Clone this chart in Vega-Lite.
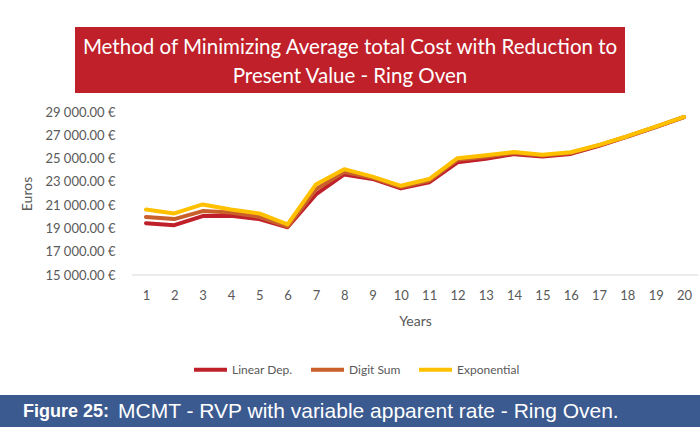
{
  "$schema": "https://vega.github.io/schema/vega-lite/v6.json",
  "padding": {"top": 27, "left": 0, "right": 0, "bottom": 0},
  "background": "white",
  "spacing": 67,
  "config": {"view": {"stroke": null}, "font": "Lato", "axis": {"labelOverlap": false}},
  "vconcat": [
    {
      "spacing": 13,
      "center": true,
      "vconcat": [
        {
          "width": 550,
          "height": 66,
          "view": {"fill": "#C0202A", "stroke": null},
          "data": {"values": [{"t": "Method of Minimizing Average total Cost with Reduction to\nPresent Value - Ring Oven"}]},
          "mark": {"type": "text", "color": "white", "fontSize": 20.5, "lineBreak": "\n", "lineHeight": 29, "font": "Lato", "baseline": "middle", "dy": -12.5},
          "encoding": {"text": {"field": "t"}}
        },
        {
          "width": 700,
          "height": 163,
          "layer": [
            {
              "data": {"values": [
                {"year": 1, "series": "Linear Dep.", "value": 19450},
                {"year": 2, "series": "Linear Dep.", "value": 19280},
                {"year": 3, "series": "Linear Dep.", "value": 20060},
                {"year": 4, "series": "Linear Dep.", "value": 20090},
                {"year": 5, "series": "Linear Dep.", "value": 19800},
                {"year": 6, "series": "Linear Dep.", "value": 19100},
                {"year": 7, "series": "Linear Dep.", "value": 21920},
                {"year": 8, "series": "Linear Dep.", "value": 23640},
                {"year": 9, "series": "Linear Dep.", "value": 23250},
                {"year": 10, "series": "Linear Dep.", "value": 22440},
                {"year": 11, "series": "Linear Dep.", "value": 22960},
                {"year": 12, "series": "Linear Dep.", "value": 24680},
                {"year": 13, "series": "Linear Dep.", "value": 24990},
                {"year": 14, "series": "Linear Dep.", "value": 25380},
                {"year": 15, "series": "Linear Dep.", "value": 25180},
                {"year": 16, "series": "Linear Dep.", "value": 25400},
                {"year": 17, "series": "Linear Dep.", "value": 26100},
                {"year": 18, "series": "Linear Dep.", "value": 26880},
                {"year": 19, "series": "Linear Dep.", "value": 27700},
                {"year": 20, "series": "Linear Dep.", "value": 28560},
                {"year": 1, "series": "Digit Sum", "value": 19980},
                {"year": 2, "series": "Digit Sum", "value": 19800},
                {"year": 3, "series": "Digit Sum", "value": 20490},
                {"year": 4, "series": "Digit Sum", "value": 20370},
                {"year": 5, "series": "Digit Sum", "value": 20000},
                {"year": 6, "series": "Digit Sum", "value": 19150},
                {"year": 7, "series": "Digit Sum", "value": 22370},
                {"year": 8, "series": "Digit Sum", "value": 23850},
                {"year": 9, "series": "Digit Sum", "value": 23350},
                {"year": 10, "series": "Digit Sum", "value": 22550},
                {"year": 11, "series": "Digit Sum", "value": 23100},
                {"year": 12, "series": "Digit Sum", "value": 24900},
                {"year": 13, "series": "Digit Sum", "value": 25150},
                {"year": 14, "series": "Digit Sum", "value": 25480},
                {"year": 15, "series": "Digit Sum", "value": 25260},
                {"year": 16, "series": "Digit Sum", "value": 25480},
                {"year": 17, "series": "Digit Sum", "value": 26140},
                {"year": 18, "series": "Digit Sum", "value": 26900},
                {"year": 19, "series": "Digit Sum", "value": 27720},
                {"year": 20, "series": "Digit Sum", "value": 28570},
                {"year": 1, "series": "Exponential", "value": 20630},
                {"year": 2, "series": "Exponential", "value": 20290},
                {"year": 3, "series": "Exponential", "value": 21060},
                {"year": 4, "series": "Exponential", "value": 20630},
                {"year": 5, "series": "Exponential", "value": 20290},
                {"year": 6, "series": "Exponential", "value": 19340},
                {"year": 7, "series": "Exponential", "value": 22780},
                {"year": 8, "series": "Exponential", "value": 24090},
                {"year": 9, "series": "Exponential", "value": 23450},
                {"year": 10, "series": "Exponential", "value": 22660},
                {"year": 11, "series": "Exponential", "value": 23240},
                {"year": 12, "series": "Exponential", "value": 25030},
                {"year": 13, "series": "Exponential", "value": 25280},
                {"year": 14, "series": "Exponential", "value": 25560},
                {"year": 15, "series": "Exponential", "value": 25320},
                {"year": 16, "series": "Exponential", "value": 25540},
                {"year": 17, "series": "Exponential", "value": 26180},
                {"year": 18, "series": "Exponential", "value": 26920},
                {"year": 19, "series": "Exponential", "value": 27740},
                {"year": 20, "series": "Exponential", "value": 28580}
              ]},
              "mark": {"type": "line", "strokeWidth": 4, "strokeJoin": "round", "strokeCap": "round"},
              "encoding": {
                "x": {
                  "field": "year", "type": "quantitative", "title": "Years",
                  "scale": {"domain": [-4.156, 20.565], "nice": false, "zero": false},
                  "axis": {"title": "Years", "values": [1, 2, 3, 4, 5, 6, 7, 8, 9, 10, 11, 12, 13, 14, 15, 16, 17, 18, 19, 20],
                    "format": "d", "labelAngle": 0, "ticks": false, "domain": false, "grid": false, "labelOverlap": false, "labelFlush": false,
                    "labelColor": "#595959", "labelFontSize": 13, "labelPadding": 14, "labelFont": "Lato",
                    "titleFont": "Lato", "titleFontSize": 14, "titleFontWeight": "normal", "titleColor": "#595959", "titlePadding": 12, "titleX": 415}
                },
                "y": {
                  "field": "value", "type": "quantitative", "title": "Euros",
                  "scale": {"domain": [15000, 29000], "nice": false, "zero": false},
                  "axis": {"title": "Euros", "values": [15000, 17000, 19000, 21000, 23000, 25000, 27000, 29000],
                    "grid": false, "domain": false, "ticks": false, "offset": -132, "labelOverlap": false, "labelFlush": false,
                    "labelExpr": "replace(format(datum.value, ',.2f'), ',', ' ') + ' €'",
                    "labelPadding": 17, "labelColor": "#595959", "labelFontSize": 13, "labelFont": "Lato",
                    "titleFont": "Lato", "titleFontSize": 14, "titleFontWeight": "normal", "titleColor": "#595959", "titlePadding": 10}
                },
                "color": {
                  "field": "series", "type": "nominal",
                  "scale": {"domain": ["Linear Dep.", "Digit Sum", "Exponential"], "range": ["#C0202A", "#C95F2A", "#FFC000"]},
                  "legend": {"orient": "none", "legendX": 187, "legendY": 319, "padding": 5, "direction": "horizontal", "title": null,
                    "symbolType": "stroke", "symbolStrokeWidth": 4, "symbolSize": 1089,
                    "labelFontSize": 12, "labelColor": "#595959", "labelFont": "Lato", "columnPadding": 10, "labelOffset": 3}
                }
              }
            },
            {
              "data": {"values": [{"from": 0.5, "to": 20.5, "base": 15000}]},
              "mark": {"type": "rule", "color": "#d9d9d9", "strokeWidth": 1},
              "encoding": {
                "x": {
                  "field": "from", "type": "quantitative", "title": "Years",
                  "axis": {"title": "Years", "values": [1, 2, 3, 4, 5, 6, 7, 8, 9, 10, 11, 12, 13, 14, 15, 16, 17, 18, 19, 20],
                    "format": "d", "labelAngle": 0, "ticks": false, "domain": false, "grid": false, "labelOverlap": false, "labelFlush": false,
                    "labelColor": "#595959", "labelFontSize": 13, "labelPadding": 14, "labelFont": "Lato",
                    "titleFont": "Lato", "titleFontSize": 14, "titleFontWeight": "normal", "titleColor": "#595959", "titlePadding": 12, "titleX": 415}
                },
                "x2": {"field": "to"},
                "y": {
                  "field": "base", "type": "quantitative", "title": "Euros",
                  "axis": {"title": "Euros", "values": [15000, 17000, 19000, 21000, 23000, 25000, 27000, 29000],
                    "grid": false, "domain": false, "ticks": false, "offset": -132, "labelOverlap": false, "labelFlush": false,
                    "labelExpr": "replace(format(datum.value, ',.2f'), ',', ' ') + ' €'",
                    "labelPadding": 17, "labelColor": "#595959", "labelFontSize": 13, "labelFont": "Lato",
                    "titleFont": "Lato", "titleFontSize": 14, "titleFontWeight": "normal", "titleColor": "#595959", "titlePadding": 10}
                }
              }
            }
          ]
        }
      ]
    },
    {
      "width": 700,
      "height": 32,
      "view": {"fill": "#3B5A8F", "stroke": null},
      "data": {"values": [{"label": "Figure 25:", "desc": "MCMT - RVP with variable apparent rate - Ring Oven."}]},
      "layer": [
        {
          "mark": {"type": "text", "color": "white", "fontSize": 18, "font": "Liberation Sans", "fontWeight": "bold", "align": "left", "baseline": "middle", "dx": 23, "dy": 1},
          "encoding": {
            "x": {"datum": 0, "type": "quantitative", "scale": {"domain": [0, 1]}, "axis": null},
            "text": {"field": "label"}
          }
        },
        {
          "mark": {"type": "text", "color": "white", "fontSize": 21, "font": "Liberation Sans", "align": "left", "baseline": "middle", "dx": 118, "dy": 1},
          "encoding": {
            "x": {"datum": 0, "type": "quantitative", "scale": {"domain": [0, 1]}, "axis": null},
            "text": {"field": "desc"}
          }
        }
      ]
    }
  ]
}
